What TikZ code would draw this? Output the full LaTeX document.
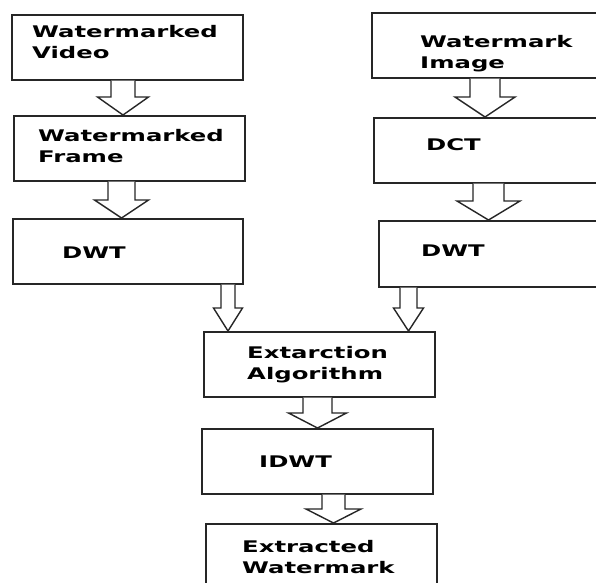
\documentclass[tikz,border=0pt]{standalone}
\usepackage{fontspec}
\setmainfont{DejaVu Sans}[FakeStretch=1.52]
\usetikzlibrary{calc}
\tikzset{
  box/.style={draw=black!85, line width=1.6pt, rectangle, inner sep=0pt, anchor=north west},
  lbl/.style={inner sep=0pt, anchor=base west, align=left, font=\fontsize{16}{21}\selectfont\bfseries, text=black},
  barrow/.style={draw=black!85, line width=1.4pt, fill=white, line join=miter},
}
% #1 from node, #2 to node, #3 centre x, #4 shaft half width, #5 head half width, #6 head height
\newcommand\blockarrow[6]{%
  \path let \p1=(#1.south), \p2=(#2.north) in
    [barrow] ({#3-#4},\y1) -- ({#3-#4},{\y2+#6}) -- ({#3-#5},{\y2+#6}) -- (#3,\y2)
      -- ({#3+#5},{\y2+#6}) -- ({#3+#4},{\y2+#6}) -- ({#3+#4},\y1);
}
\begin{document}
\begin{tikzpicture}[x=1pt,y=1pt]
\useasboundingbox (0,0) rectangle (596,-582);
\fill[white] (0,0) rectangle (596,-582);
\begin{scope}
\clip (0,0) rectangle (596,-582);
% boxes
\node[box, minimum width=231pt, minimum height=65pt] (b1) at (11,-14) {};
\node[box, minimum width=231pt, minimum height=65pt] (b2) at (13,-115) {};
\node[box, minimum width=230pt, minimum height=65pt] (b3) at (12,-218) {};
\node[box, minimum width=260pt, minimum height=65pt] (b4) at (371,-12) {};
\node[box, minimum width=260pt, minimum height=65pt] (b5) at (373,-117) {};
\node[box, minimum width=260pt, minimum height=66pt] (b6) at (378,-220) {};
\node[box, minimum width=231pt, minimum height=65pt] (b7) at (203,-331) {};
\node[box, minimum width=231pt, minimum height=65pt] (b8) at (201,-428) {};
\node[box, minimum width=231pt, minimum height=80pt] (b9) at (205,-523) {};
% labels
\node[lbl] (t1) at (32,-58) {Watermarked\\Video};
\node[lbl] (t2) at (38,-162) {Watermarked\\Frame};
\node[lbl] (t3) at (62,-258) {DWT};
\node[lbl] (t4) at (420,-68) {Watermark\\Image};
\node[lbl] (t5) at (426,-150) {DCT};
\node[lbl] (t6) at (421,-256) {DWT};
\node[lbl] (t7) at (247,-379) {Extarction\\Algorithm};
\node[lbl] (t8) at (259,-467) {IDWT};
\node[lbl] (t9) at (242,-573) {Extracted\\Watermark};
% arrows
\blockarrow{b1}{b2}{123}{12}{25.5}{18}
\blockarrow{b2}{b3}{121.5}{13.5}{27}{18}
\blockarrow{b4}{b5}{485}{15}{30}{20}
\blockarrow{b5}{b6}{488.5}{15.5}{31.5}{19}
\blockarrow{b3}{b7}{228}{7}{14.5}{23}
\blockarrow{b6}{b7}{408.5}{8.5}{15}{23}
\blockarrow{b7}{b8}{317.5}{14.5}{29}{15}
\blockarrow{b8}{b9}{333.5}{11.5}{27.5}{14}
\end{scope}
\end{tikzpicture}
\end{document}
